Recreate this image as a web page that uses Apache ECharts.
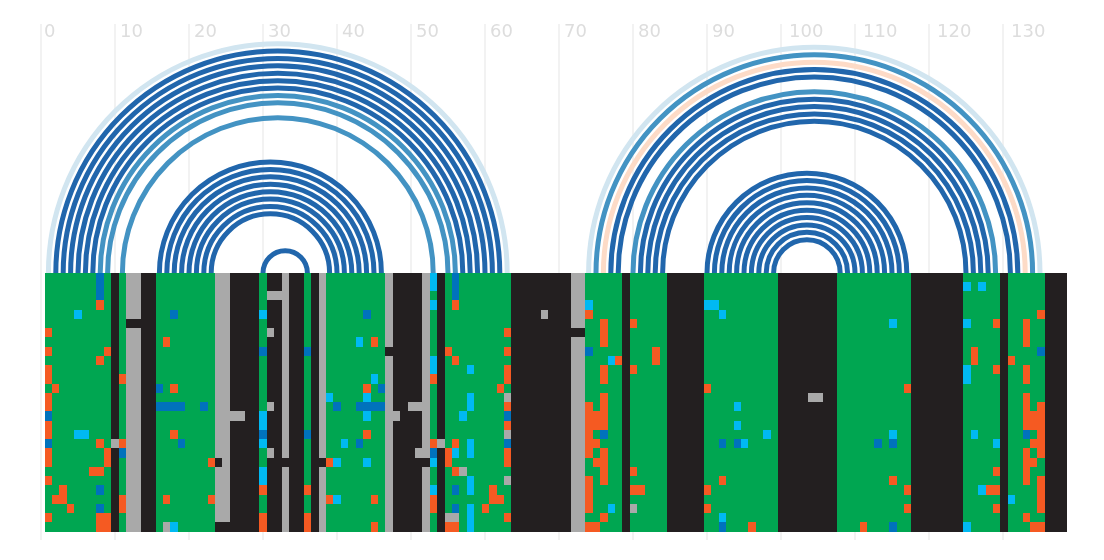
<!DOCTYPE html>
<html><head><meta charset="utf-8">
<style>html,body{margin:0;padding:0;background:#fff}#c{width:1104px;height:560px}</style>
<script src="https://cdn.jsdelivr.net/npm/echarts@6/dist/echarts.min.js"></script>
</head><body><div id="c"></div>
<script>
// Cell states of the alignment
const stateColors = {G:'#00A651',D:'#231F20',W:'#A9A9A9',O:'#F55A22',C:'#00B9F2',B:'#0072BC'};
// Default state of every column, as runs of [state, count]
const columnRuns = 'G9 D1 G1 W2 D2 G8 W2 D4 G1 D2 W1 D2 G1 D1 W1 G8 W1 D4 W1 G1 D1 G9 D8 W2 G5 D1 G5 D5 G10 D8 G10 D7 G5 D1 G5 D3';
// Per-row differences from the default (state + zero-based column indexes)
const rowDiffs = [
 'B7 C52 B55',
 'B7 C52 B55 C124 C126',
 'B7 B55 W30,31',
 'O7 C52 O55 C73 C89,90',
 'C4 B17 C29 B43 W67 O73 C91 O134',
 'D11,12 C114 O75 O79 C124 O128 O132',
 'O0 W30 O62 O75 O132 D71,72',
 'O16 C42 O44 O75 O132',
 'O0 O8 B29 B35 D46 O54 O62 B73 O82 O125 B134',
 'O7 C52 O55 C76 O77 O82 O125 O130',
 'O0 C52 C57 O62 O75 O79 C124 O128 O132',
 'O0 O10 C44 O52 O62 O75 C124 O132',
 'O1 B15 O17 O43 B45 O61 O89 O116',
 'O0 C38 C43 W62 C57 O75 W103,104 O132',
 'O0 B15,16,17,18 B21 W30 B39 B42,43,44,45 W49,50 C57 O62 O73 O75 C93 O132 O134',
 'B0 W25,26 C29 C43 W47 C56 B62 O73,74,75 O132,133,134',
 'O0 C29 O62 O73,74,75 C93 O132,133,134',
 'O0 C4,5 O17 B29 B35 O43 W62 O73 B75 C97 C114 C125 B132 O134',
 'B0 O7 W9 O10 B18 C29 C40 B42 O52 W53 O55 C57 B62 O73,74 B91 B93 C94 B112 B114 C128 O133,134',
 'O0 O8 B10 W30 W50 B52 O54 C55 C57 O62 O73 O75 O132 O134',
 'O0 O8 O22 D23 D32 D37 O38 C39 C43 D51 C52 O54 O62 O74,75 O132,133',
 'O6,7 C29 O55 W56 O75 O79 O128 O132',
 'O0 C29 C57 W62 O73 O75 O91 O114 O132 O134',
 'O2 B7 O29 O35 C52 B55 C57 O60 O73 O79,80 O89 O116 C126 O127,128 O134',
 'O1,2 O10 O16 O22 O38 C39 O44 O52 O60,61 O73 C130 O134',
 'O3 B7 O10 O52 B55 C57 O59 O73 C76 W79 O89 O116 O128 O134',
 'O0 O7,8 O29 O35 W54,55 C57 O62 O75 C91 O132',
 'O7,8 W16 C17 D23,24 O29 O35 O44 O54,55 C57 O73,74 B91 O95 O110 B114 C124 O133,134'
];
// Paired columns (1-based axis positions) and their pair class
const arcColors = {d:'#2166AC',m:'#4393C3',l:'#D1E5F0',p:'#FDDBC7'};
const arcStart = [1,2,3,4,5,6,7,8,9,11, 16,17,18,19,20,21,22,23, 30,
                  74,75,76,77,78,80,81,82,83,84, 90,91,92,93,94,95,96,97,98,99];
const arcEnd   = [63,62,61,60,59,58,57,56,55,53, 46,45,44,43,42,41,40,39, 36,
                  135,134,133,132,131,129,128,127,126,125, 117,116,115,114,113,112,111,110,109,108];
const arcKind  = 'lddddddmmm'+'dddddddd'+'d'+'lmpddmdddd'+'dddddddddd';
const axisTicks = [0,10,20,30,40,50,60,70,80,90,100,110,120,130];

const columnStates = [];
columnRuns.split(' ').forEach(r => { for (let k = 0; k < +r.slice(1); k++) columnStates.push(r[0]); });
const cells = [];
rowDiffs.forEach((diff, row) => {
  const states = columnStates.slice();
  diff.split(' ').forEach(t => t.slice(1).split(',').forEach(c => { states[+c] = t[0]; }));
  states.forEach((s, i) => cells.push([i, row, s]));
});
const arcs = arcStart.map((s, i) => [s, arcEnd[i], arcKind[i]]);

const labelFont = {color:'#dddddd',fontFamily:'DejaVu Sans',fontSize:18};
const chart = echarts.init(document.getElementById('c'), null, {renderer:'canvas'});
chart.setOption({
  animation:false,
  backgroundColor:'#fff',
  grid:{left:41,width:1025.64,top:24,height:516,containLabel:false},
  xAxis:[{
    type:'value',position:'top',min:0,max:138.6,interval:10,
    axisLine:{show:false},axisTick:{show:false},
    splitLine:{show:true,showMaxLine:false,showMinLine:true,lineStyle:{color:'#eeeeee',width:1.5}},
    axisLabel:{show:true,inside:true,showMaxLabel:true,showMinLabel:true,hideOverlap:false,
      color:'#dddddd',fontFamily:'DejaVu Sans',fontSize:18,align:'left',margin:-1,
      customValues:axisTicks,
      formatter:v => { const s = String(v); return '{n' + s.length + '|' + s + '}'; },
      rich:{
        n1:Object.assign({padding:[0,0,0,3]},labelFont),
        n2:Object.assign({padding:[0,0,0,5]},labelFont),
        n3:Object.assign({padding:[0,0,0,8]},labelFont)
      }
    }
  },{
    // Hidden scale of the cell grid, indexed by column edge
    type:'value',position:'bottom',min:-0.54,max:137.87,show:false,splitLine:{show:false}
  }],
  yAxis:{type:'value',inverse:true,min:-26.92,max:28.86,show:false,splitLine:{show:false}},
  series:[
    {
      type:'custom',coordinateSystem:'cartesian2d',xAxisIndex:0,clip:false,silent:true,z:3,
      encode:{x:[0,1],y:2},
      data:arcs.map(a => [a[0],a[1],0]),
      renderItem(params, api){
        const a = api.coord([api.value(0),0]), b = api.coord([api.value(1),0]);
        const cx = (a[0]+b[0])/2, r = (b[0]-a[0])/2;
        return {type:'arc',shape:{cx,cy:a[1],r,startAngle:Math.PI,endAngle:2*Math.PI,clockwise:true},
          style:{fill:null,stroke:arcColors[arcs[params.dataIndex][2]],lineWidth:5}};
      }
    },
    {
      type:'custom',coordinateSystem:'cartesian2d',xAxisIndex:1,clip:false,silent:true,z:4,
      encode:{x:0,y:1},
      data:cells.map(c => [c[0],c[1]]),
      renderItem(params, api){
        const v = api.value(0), row = api.value(1);
        const p0 = api.coord([v,row]), p1 = api.coord([v+1,row+1]);
        const x0 = Math.floor(p0[0]), x1 = Math.floor(p1[0]), y0 = Math.floor(p0[1]), y1 = Math.floor(p1[1]);
        return {type:'rect',shape:{x:x0,y:y0,width:x1-x0,height:y1-y0},
          style:{fill:stateColors[cells[params.dataIndex][2]]}};
      }
    }
  ]
});
</script></body></html>
